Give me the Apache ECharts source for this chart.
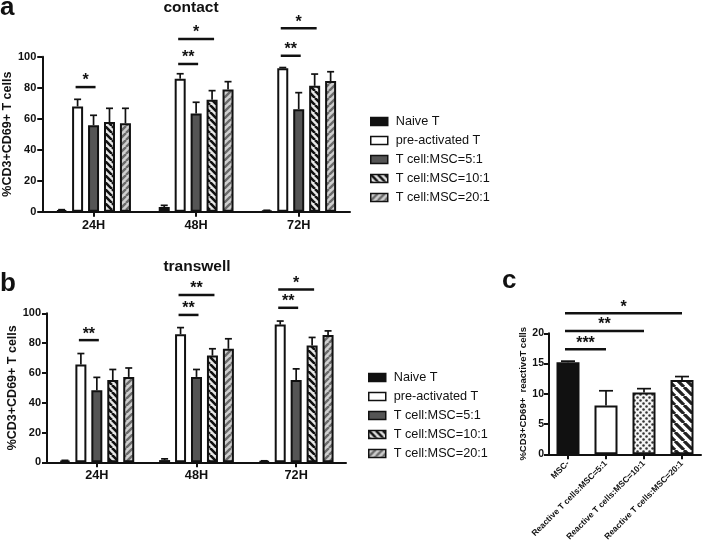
<!DOCTYPE html>
<html><head><meta charset="utf-8">
<script src="https://cdn.jsdelivr.net/npm/echarts@6/dist/echarts.min.js"></script>
<style>html,body{margin:0;padding:0;background:#fff}#c{width:709px;height:551px}</style>
</head><body><div id="c"></div>
<script>
// ---------------- data ----------------
const timeCats = ['24H', '48H', '72H'];
const groupNames = ['Naive T', 'pre-activated T', 'T cell:MSC=5:1', 'T cell:MSC=10:1', 'T cell:MSC=20:1'];

// panel a: contact (means, then SD) per group across 24H/48H/72H
const contactNaive = [1.0, 3.0, 0.7];
const contactPre   = [67.9, 85.8, 92.6];
const contact5     = [55.8, 63.4, 66.1];
const contact10    = [57.8, 72.3, 81.2];
const contact20    = [57.0, 78.8, 84.3];
const contactNaiveSD = [0.3, 1.1, 0.2];
const contactPreSD   = [4.6, 3.2, 0.4];
const contact5SD     = [6.4, 7.2, 10.7];
const contact10SD    = [8.9, 5.8, 7.6];
const contact20SD    = [9.7, 5.1, 6.0];

// panel b: transwell
const transNaive = [1.0, 1.5, 0.8];
const transPre   = [65.6, 86.0, 92.4];
const trans5     = [48.3, 57.3, 55.2];
const trans10    = [55.2, 71.6, 78.4];
const trans20    = [57.3, 76.2, 85.4];
const transNaiveSD = [0.3, 0.8, 0.2];
const transPreSD   = [7.4, 4.4, 2.4];
const trans5SD     = [8.7, 5.0, 7.5];
const trans10SD    = [7.1, 4.6, 5.4];
const trans20SD    = [6.0, 6.7, 2.8];

// significance brackets: [category, fromGroup, toGroup, yLevel, label]
const sigContact = [[0, 1, 2, 80.4, '*'], [1, 1, 2, 95.3, '**'], [1, 1, 3, 111.4, '*'], [2, 1, 2, 100.6, '**'], [2, 1, 3, 118.3, '*']];
const sigTrans   = [[0, 1, 2, 82.0, '**'], [1, 1, 2, 98.9, '**'], [1, 1, 3, 112.3, '**'], [2, 1, 2, 103.7, '**'], [2, 1, 3, 116.0, '*']];

// panel c
const cCats  = ['MSC-', 'Reactive T cells:MSC=5:1', 'Reactive T cells:MSC=10:1', 'Reactive T cells:MSC=20:1'];
const cMeans = [15.2, 8.05, 10.2, 12.3];
const cSD    = [0.2, 2.45, 0.65, 0.55];
// [fromCat, toCat, yLevel, label]
const sigC = [[0, 1, 17.35, '***'], [0, 2, 20.4, '**'], [0, 3, 23.3, '*']];

// ---------------- styling helpers ----------------
const FONT = '"Liberation Sans", Arial, Helvetica, sans-serif';
const INK = '#111';
const BAR_W = 11, BAR_GAP = 0.45;

function stripeCanvas(p, bg, fg, dir, lw) {
  const c = document.createElement('canvas'); c.width = p; c.height = p;
  const g = c.getContext('2d'); g.fillStyle = bg; g.fillRect(0, 0, p, p);
  g.strokeStyle = fg; g.lineWidth = lw; g.beginPath();
  for (let o = -p; o <= p; o += p) {
    if (dir === '\\') { g.moveTo(o, 0); g.lineTo(o + p, p); }
    else { g.moveTo(o, p); g.lineTo(o + p, 0); }
  }
  g.stroke(); return c;
}
function dotCanvas(p, bg, fg, r) {
  const c = document.createElement('canvas'); c.width = p; c.height = p;
  const g = c.getContext('2d'); g.fillStyle = bg; g.fillRect(0, 0, p, p);
  g.fillStyle = fg;
  [[p / 4, p / 4], [3 * p / 4, 3 * p / 4]].forEach(([x, y]) => { g.beginPath(); g.arc(x, y, r, 0, Math.PI * 2); g.fill(); });
  return c;
}
const pat10 = { image: stripeCanvas(7, '#e6e6e6', '#111', '\\', 2.6), repeat: 'repeat' };
const pat20 = { image: stripeCanvas(7, '#cfcfcf', '#6a6a6a', '/', 2.4), repeat: 'repeat' };
const patC10 = { image: dotCanvas(6, '#f4f4f4', '#333', 1.25), repeat: 'repeat' };
const patC20 = { image: stripeCanvas(9, '#ffffff', '#222', '\\', 3.2), repeat: 'repeat' };
const groupColors = ['#111', '#ffffff', '#555555', pat10, pat20];
const cColors = ['#111', '#ffffff', patC10, patC20];

function barOffset(k, n) { const step = BAR_W * (1 + BAR_GAP); return (k - (n - 1) / 2) * step; }

function errRenderer(n, cap) {
  return function (params, api) {
    const cat = api.value(0), k = api.value(1), m = api.value(2), sd = api.value(3);
    const base = api.coord([cat, m]);
    const top = api.coord([cat, m + sd]);
    const x = base[0] + (n > 1 ? barOffset(k, n) : 0);
    const st = { stroke: INK, lineWidth: 1.7 };
    return { type: 'group', children: [
      { type: 'line', shape: { x1: x, y1: base[1], x2: x, y2: top[1] }, style: st },
      { type: 'line', shape: { x1: x - cap / 2, y1: top[1], x2: x + cap / 2, y2: top[1] }, style: st }
    ] };
  };
}
function sigRenderer(list, grouped) {
  return function (params, api) {
    const s = list[params.dataIndex];
    let x1, x2, y, label;
    if (grouped) {
      const p = api.coord([s[0], s[3]]);
      x1 = p[0] + barOffset(s[1], 5) - 2; x2 = p[0] + barOffset(s[2], 5) + 2; y = p[1]; label = s[4];
    } else {
      const p1 = api.coord([s[0], s[2]]), p2 = api.coord([s[1], s[2]]);
      x1 = p1[0] - 3; x2 = p2[0]; y = p1[1]; label = s[3];
    }
    return { type: 'group', children: [
      { type: 'line', shape: { x1: x1, y1: y, x2: x2, y2: y }, style: { stroke: INK, lineWidth: 2.5 } },
      { type: 'text', x: (x1 + x2) / 2, y: y - 6, style: { text: label, fill: INK, fontSize: 16, fontWeight: 'bold', fontFamily: FONT, align: 'center', verticalAlign: 'middle' } }
    ] };
  };
}

function xAxisCat(gridIndex, data, labelOpt) {
  return {
    type: 'category', gridIndex: gridIndex, data: data,
    axisLine: { show: true, lineStyle: { color: INK, width: 2 } },
    axisTick: { show: true, alignWithLabel: true, length: 5, lineStyle: { color: INK, width: 2 } },
    axisLabel: Object.assign({ color: INK, fontFamily: FONT, fontWeight: 'bold', fontSize: 12.7, margin: 7, interval: 0 }, labelOpt || {}),
    splitLine: { show: false }
  };
}
function yAxisVal(gridIndex, max, interval, name, nameGap, nameSize, extra) {
  return Object.assign({
    type: 'value', gridIndex: gridIndex, min: 0, max: max, interval: interval,
    name: name, nameLocation: 'middle', nameRotate: 90, nameGap: nameGap,
    nameTextStyle: { color: INK, fontFamily: FONT, fontWeight: 'bold', fontSize: nameSize },
    axisLine: { show: true, lineStyle: { color: INK, width: 2 } },
    axisTick: { show: true, length: 5, lineStyle: { color: INK, width: 2 } },
    axisLabel: { color: INK, fontFamily: FONT, fontWeight: 'bold', fontSize: 11, margin: 6 },
    splitLine: { show: false }
  }, extra || {});
}

const contactMeans = [contactNaive, contactPre, contact5, contact10, contact20];
const contactSDs = [contactNaiveSD, contactPreSD, contact5SD, contact10SD, contact20SD];
const transMeans = [transNaive, transPre, trans5, trans10, trans20];
const transSDs = [transNaiveSD, transPreSD, trans5SD, trans10SD, trans20SD];

const series = [];
[[contactMeans, contactSDs, sigContact], [transMeans, transSDs, sigTrans]].forEach(([means, sds, sig], p) => {
  groupNames.forEach((name, k) => {
    series.push({
      type: 'bar', name: name, xAxisIndex: p, yAxisIndex: p, data: means[k],
      barWidth: BAR_W, barGap: (BAR_GAP * 100) + '%',
      itemStyle: { color: groupColors[k], borderColor: INK, borderWidth: 2 },
      emphasis: { disabled: true }
    });
  });
  const errData = [];
  sds.forEach((arr, k) => arr.forEach((sd, c) => errData.push([c, k, means[k][c], sd])));
  series.push({ type: 'custom', xAxisIndex: p, yAxisIndex: p, renderItem: errRenderer(5, 7), data: errData, z: 5, silent: true });
  series.push({ type: 'custom', xAxisIndex: p, yAxisIndex: p, renderItem: sigRenderer(sig, true), data: sig.map(s => [s[0], s[3]]), z: 5, silent: true });
});
series.push({
  type: 'bar', name: 'panel c', xAxisIndex: 2, yAxisIndex: 2, barWidth: 23,
  data: cMeans.map((v, i) => ({ value: v, itemStyle: { color: cColors[i] } })),
  itemStyle: { borderColor: INK, borderWidth: 2 }, emphasis: { disabled: true }
});
series.push({ type: 'custom', xAxisIndex: 2, yAxisIndex: 2, renderItem: errRenderer(1, 14), data: cMeans.map((m, i) => [i, 0, m, cSD[i]]), z: 5, silent: true });
series.push({ type: 'custom', xAxisIndex: 2, yAxisIndex: 2, renderItem: sigRenderer(sigC, false), data: sigC.map(s => [s[0], s[2]]), z: 5, silent: true });

const legendBase = {
  orient: 'vertical', itemWidth: 17, itemHeight: 8, itemGap: 6, icon: 'rect', data: groupNames, selectedMode: false,
  textStyle: { color: INK, fontFamily: FONT, fontSize: 12.7, padding: [0, 0, 0, 3] },
  itemStyle: { borderColor: INK, borderWidth: 1.5 }
};
const letterStyle = { color: INK, fontFamily: FONT, fontWeight: 'bold', fontSize: 26 };
const titleStyle = { color: INK, fontFamily: FONT, fontWeight: 'bold', fontSize: 15.5 };

const option = {
  animation: false,
  backgroundColor: '#fff',
  title: [
    { text: 'a', left: 0, top: -5, padding: 0, textStyle: letterStyle },
    { text: 'contact', left: 191, top: 0, padding: 0, textAlign: 'center', textStyle: titleStyle },
    { text: 'b', left: 0, top: 271, padding: 0, textStyle: letterStyle },
    { text: 'transwell', left: 197, top: 259, padding: 0, textAlign: 'center', textStyle: titleStyle },
    { text: 'c', left: 502, top: 268, padding: 0, textStyle: letterStyle }
  ],
  legend: [
    Object.assign({}, legendBase, { left: 365, top: 110 }),
    Object.assign({}, legendBase, { left: 363, top: 366 })
  ],
  grid: [
    { left: 41, top: 56.7, width: 309, height: 155 },
    { left: 47, top: 313.3, width: 299, height: 149 },
    { left: 549, top: 333.3, width: 152, height: 121 }
  ],
  xAxis: [
    xAxisCat(0, timeCats),
    xAxisCat(1, timeCats),
    xAxisCat(2, cCats, { rotate: 45, fontSize: 8.5, margin: 8 })
  ],
  yAxis: [
    yAxisVal(0, 100, 20, '%CD3+CD69+ T cells', 22, 12.5),
    yAxisVal(1, 100, 20, '%CD3+CD69+ T cells', 27, 12.5),
    yAxisVal(2, 20, 5, '%CD3+CD69+  reactiveT cells', 14, 9.5, { axisLabel: { color: INK, fontFamily: FONT, fontWeight: 'bold', fontSize: 10.5, margin: 5 } })
  ],
  series: series
};
const chart = echarts.init(document.getElementById('c'));
chart.setOption(option);
</script>
</body></html>
